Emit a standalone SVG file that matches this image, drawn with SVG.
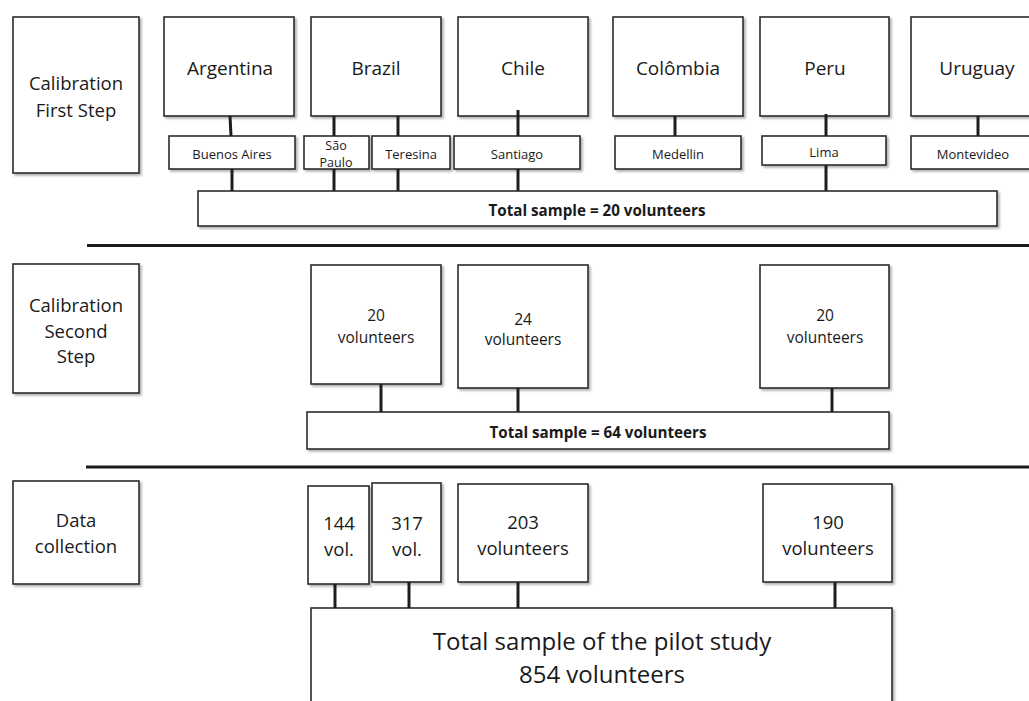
<svg xmlns="http://www.w3.org/2000/svg" width="1029" height="701" viewBox="0 0 1029 701">
<defs>
<filter id="sh" x="-10%" y="-10%" width="130%" height="130%">
<feDropShadow dx="2" dy="2" stdDeviation="1.2" flood-color="#000" flood-opacity="0.3"/>
</filter>
<style>
.b{fill:#fff;stroke:#2a2a2a;stroke-width:1.6;filter:url(#sh)}
.t{font-family:"Open Sans","Noto Sans","DejaVu Sans",sans-serif;fill:#1a1a1a;text-anchor:middle}
.bd{font-weight:bold}
.c{stroke:#1e1e1e;stroke-width:3;fill:none}
.d{stroke:#1a1a1a;stroke-width:3;fill:none}
</style>
</defs>
<rect width="1029" height="701" fill="#fff"/>

<g id="dividers">
<line class="d" x1="87" y1="245.5" x2="1029" y2="245.5"/>
<line class="d" x1="86" y1="467" x2="1029" y2="467"/>
</g>

<g id="step1-label"><rect class="b" x="13" y="17" width="126" height="156"/>
<text class="t" x="76" y="90" font-size="18.5">Calibration</text>
<text class="t" x="76" y="117" font-size="18.5">First Step</text></g>

<g id="argentina"><rect class="b" x="164" y="17" width="130" height="99"/><text class="t" x="230" y="75" font-size="19">Argentina</text></g>
<g id="brazil"><rect class="b" x="311" y="17" width="130" height="99"/><text class="t" x="376" y="75" font-size="19">Brazil</text></g>
<g id="chile"><rect class="b" x="458" y="17" width="130" height="99"/><text class="t" x="523" y="75" font-size="19">Chile</text></g>
<g id="colombia"><rect class="b" x="613" y="17" width="130" height="99"/><text class="t" x="678" y="75" font-size="19">Colômbia</text></g>
<g id="peru"><rect class="b" x="760" y="17" width="129" height="99"/><text class="t" x="825" y="75" font-size="19">Peru</text></g>
<g id="uruguay"><rect class="b" x="911" y="17" width="130" height="99"/><text class="t" x="977" y="75" font-size="19">Uruguay</text></g>

<g id="buenos-aires"><rect class="b" x="169" y="136" width="126" height="33"/><text class="t" x="232" y="159" font-size="13">Buenos Aires</text></g>
<g id="sao-paulo"><rect class="b" x="304" y="136" width="65" height="33"/><text class="t" x="336" y="150" font-size="12.5">São</text><text class="t" x="336" y="167" font-size="12.5">Paulo</text></g>
<g id="teresina"><rect class="b" x="372" y="136" width="78" height="33"/><text class="t" x="411" y="159" font-size="13">Teresina</text></g>
<g id="santiago"><rect class="b" x="454" y="136" width="126" height="33"/><text class="t" x="517" y="159" font-size="13">Santiago</text></g>
<g id="medellin"><rect class="b" x="615" y="136" width="126" height="33"/><text class="t" x="678" y="159" font-size="13">Medellin</text></g>
<g id="lima"><rect class="b" x="762" y="136" width="124" height="29"/><text class="t" x="824" y="157" font-size="13">Lima</text></g>
<g id="montevideo"><rect class="b" x="911" y="136" width="126" height="33"/><text class="t" x="973" y="159" font-size="13">Montevideo</text></g>

<g id="total1"><rect class="b" x="198" y="191" width="799" height="35"/><text class="t bd" x="597" y="216" font-size="15.2">Total sample = 20 volunteers</text></g>

<g id="step2-label"><rect class="b" x="13" y="264" width="126" height="129"/>
<text class="t" x="76" y="312" font-size="18.5">Calibration</text>
<text class="t" x="76" y="337.5" font-size="18.5">Second</text>
<text class="t" x="76" y="363" font-size="18.5">Step</text></g>

<g id="s2-a"><rect class="b" x="311" y="265" width="130" height="119"/><text class="t" x="376" y="321" font-size="15.5">20</text><text class="t" x="376" y="343" font-size="15.5">volunteers</text></g>
<g id="s2-b"><rect class="b" x="458" y="265" width="130" height="123"/><text class="t" x="523" y="325" font-size="15.5">24</text><text class="t" x="523" y="345" font-size="15.5">volunteers</text></g>
<g id="s2-c"><rect class="b" x="760" y="265" width="129" height="123"/><text class="t" x="825" y="321" font-size="15.5">20</text><text class="t" x="825" y="343" font-size="15.5">volunteers</text></g>

<g id="total2"><rect class="b" x="307" y="412" width="582" height="37"/><text class="t bd" x="598" y="438" font-size="15.2">Total sample = 64 volunteers</text></g>

<g id="step3-label"><rect class="b" x="13" y="481" width="126" height="103"/>
<text class="t" x="76" y="527" font-size="18.5">Data</text>
<text class="t" x="76" y="553" font-size="18.5">collection</text></g>

<g id="d-144"><rect class="b" x="308" y="486" width="61" height="98"/><text class="t" x="339" y="530" font-size="18.5">144</text><text class="t" x="339" y="556" font-size="18.5">vol.</text></g>
<g id="d-317"><rect class="b" x="372" y="483" width="69" height="99"/><text class="t" x="407" y="530" font-size="18.5">317</text><text class="t" x="407" y="556" font-size="18.5">vol.</text></g>
<g id="d-203"><rect class="b" x="458" y="484" width="130" height="98"/><text class="t" x="523" y="529" font-size="18.5">203</text><text class="t" x="523" y="555" font-size="18.5">volunteers</text></g>
<g id="d-190"><rect class="b" x="763" y="484" width="129" height="98"/><text class="t" x="828" y="529" font-size="18.5">190</text><text class="t" x="828" y="555" font-size="18.5">volunteers</text></g>

<g id="total3"><rect class="b" x="311" y="608" width="581" height="110"/>
<text class="t" x="602" y="650" font-size="24">Total sample of the pilot study</text>
<text class="t" x="602" y="683" font-size="24">854 volunteers</text></g>

<g id="connectors">
<line class="c" x1="230" y1="116" x2="231" y2="136"/>
<line class="c" x1="334" y1="116" x2="334" y2="136"/>
<line class="c" x1="398" y1="116" x2="398" y2="136"/>
<line class="c" x1="518" y1="110" x2="518" y2="136"/>
<line class="c" x1="675" y1="116" x2="675" y2="136"/>
<line class="c" x1="826" y1="114" x2="826" y2="136"/>
<line class="c" x1="978" y1="116" x2="978" y2="136"/>
<line class="c" x1="232" y1="169" x2="232" y2="191"/>
<line class="c" x1="334" y1="169" x2="334" y2="191"/>
<line class="c" x1="398" y1="169" x2="398" y2="191"/>
<line class="c" x1="518" y1="169" x2="518" y2="191"/>
<line class="c" x1="826" y1="165" x2="826" y2="191"/>
<line class="c" x1="381" y1="384" x2="381" y2="412"/>
<line class="c" x1="518" y1="388" x2="518" y2="412"/>
<line class="c" x1="832" y1="388" x2="832" y2="412"/>
<line class="c" x1="335" y1="584" x2="335" y2="608"/>
<line class="c" x1="409" y1="582" x2="409" y2="608"/>
<line class="c" x1="518" y1="582" x2="518" y2="608"/>
<line class="c" x1="835" y1="582" x2="835" y2="608"/>
</g>
</svg>
